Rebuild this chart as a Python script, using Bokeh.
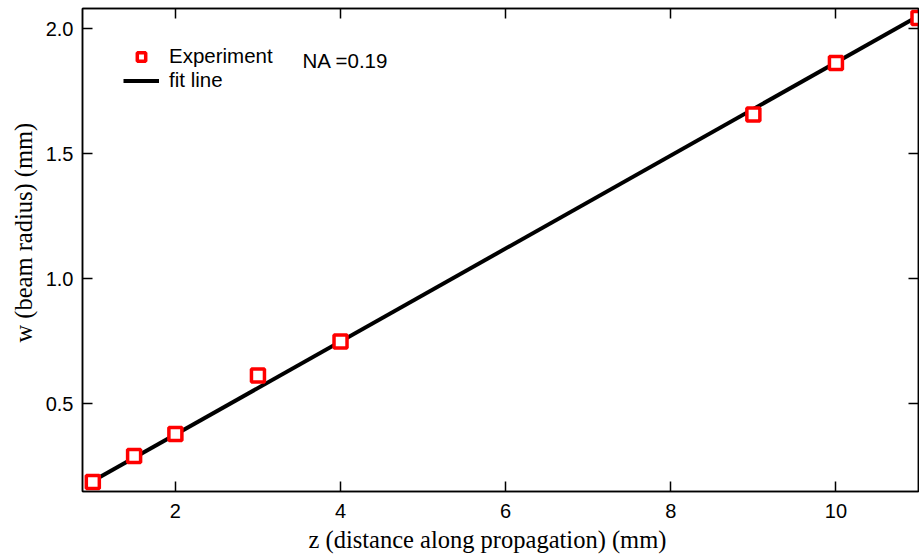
from bokeh.plotting import figure
from bokeh.models import (Range1d, LinearAxis, Label, FixedTicker, Legend, LegendItem,
                          NumeralTickFormatter, CustomJSTickFormatter, Title)
from bokeh.embed import file_html
from bokeh.resources import INLINE

# Measured beam radius along the propagation axis
z_mm = [1, 1.5, 2, 3, 4, 9, 10, 11]
w_mm = [0.186, 0.29, 0.378, 0.612, 0.748, 1.656, 1.862, 2.042]

# Linear fit endpoints (slope ~ NA)
fit_z = [1, 11]
fit_w = [0.19, 2.05]

x_ticks = [2, 4, 6, 8, 10]
y_ticks = [0.5, 1.0, 1.5, 2.0]

x_title = "z (distance along propagation) (mm)"
y_title = "w (beam radius) (mm)"

p = figure(width=919, height=558, output_backend="svg", toolbar_location=None,
           x_range=Range1d(0.875, 11.0), y_range=Range1d(0.148, 2.08),
           min_border_left=82, min_border_right=1, min_border_top=8, min_border_bottom=67)
p.grid.visible = False
p.outline_line_color = "black"
p.outline_line_width = 1.5
p.background_fill_color = "white"
p.border_fill_color = "white"

for ax in p.xaxis + p.yaxis:
    ax.major_tick_in = 10
    ax.major_tick_out = 0
    ax.minor_tick_line_color = None
    ax.axis_line_width = 1.5
    ax.major_tick_line_width = 1.5
    ax.major_label_text_font = "Liberation Sans"
    ax.major_label_text_font_size = "20px"
    ax.major_label_text_color = "black"

p.xaxis.ticker = FixedTicker(ticks=x_ticks)
p.yaxis.ticker = FixedTicker(ticks=y_ticks)
p.yaxis.formatter = NumeralTickFormatter(format="0.0")
p.xaxis.major_label_standoff = 12
p.yaxis.major_label_standoff = 9

# mirrored tick marks on the top and right edges (no labels)
blank = CustomJSTickFormatter(code="return ''")
top = LinearAxis(ticker=FixedTicker(ticks=x_ticks), formatter=blank,
                 major_tick_in=10, major_tick_out=0, minor_tick_line_color=None,
                 axis_line_width=1.5, major_tick_line_width=1.5, major_label_standoff=0)
right = LinearAxis(ticker=FixedTicker(ticks=y_ticks), formatter=blank,
                   major_tick_in=10, major_tick_out=0, minor_tick_line_color=None,
                   axis_line_width=1.5, major_tick_line_width=1.5, major_label_standoff=0)
p.add_layout(top, "above")
p.add_layout(right, "right")

# axis titles set in the border panels, outside the tick labels
p.add_layout(Title(text=x_title, align="left", offset=226, standoff=7,
                   text_font="Liberation Serif", text_font_size="24.5px",
                   text_font_style="normal", text_color="black"), "below")
p.add_layout(Title(text=y_title, align="left", offset=149, standoff=11,
                   text_font="Liberation Serif", text_font_size="24.5px",
                   text_font_style="normal", text_color="black"), "left")

fit = p.line(fit_z, fit_w, line_color="black", line_width=4)
pts = p.scatter(z_mm, w_mm, marker="square", size=13, fill_color="white",
                line_color="#ff0000", line_width=3.5)

legend = Legend(items=[LegendItem(label="Experiment", renderers=[pts]),
                       LegendItem(label="fit line", renderers=[fit])],
                location=(41, 399), glyph_width=36, glyph_height=21,
                label_height=21, label_standoff=10, spacing=0, padding=0, margin=0,
                border_line_color=None, background_fill_alpha=0,
                label_text_font="Liberation Sans", label_text_font_size="20.5px",
                label_text_color="black")
p.add_layout(legend)

p.add_layout(Label(x=302 - 82, y=491 - 60, x_units="screen", y_units="screen", text="NA =0.19",
                   text_font="Liberation Sans", text_font_size="20.5px", text_baseline="middle",
                   text_color="black"))

html = file_html(p, INLINE)
open("out.html", "w").write(html)
